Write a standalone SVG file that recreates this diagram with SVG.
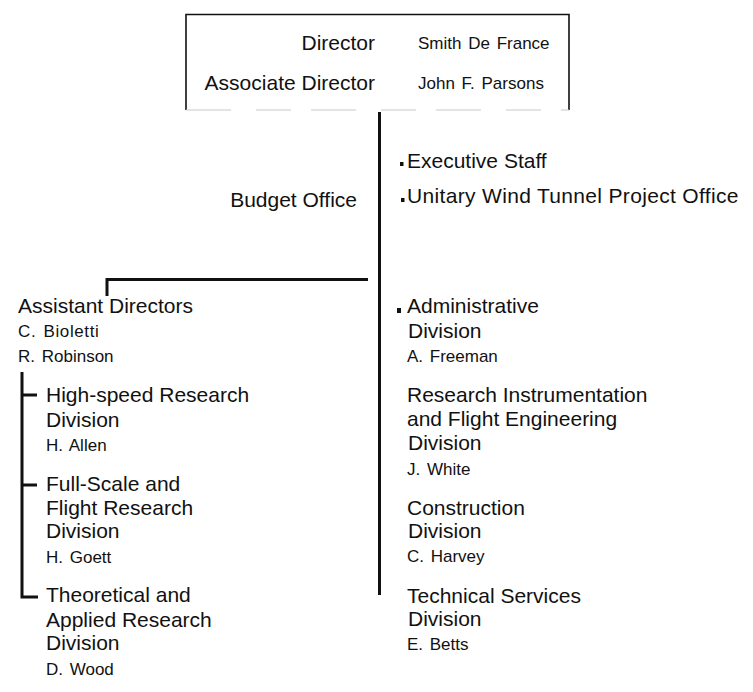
<svg xmlns="http://www.w3.org/2000/svg" width="753" height="692" viewBox="0 0 753 692">
<style>
  text { font-family: "Liberation Sans", Arial, sans-serif; fill: #111; }
  .t { font-size: 21px; }
  .n { font-size: 17px; word-spacing: 2px; }
  .end { text-anchor: end; }
  .line { stroke: #111; fill: none; stroke-width: 3; }
  .bul { fill: #111; }
</style>
<rect width="753" height="692" fill="#fff"/>
<g id="director">
  <path d="M186,110 V14.5 H569 V110" fill="none" stroke="#111" stroke-width="1.6"/>
  <line x1="186" y1="110" x2="569" y2="110" stroke="#c8c8c8" stroke-width="1" stroke-dasharray="45,25,35,20"/>
  <text class="t end" x="375" y="50">Director</text>
  <text class="n" x="418" y="49">Smith De France</text>
  <text class="t end" x="375" y="90">Associate Director</text>
  <text class="n" x="418" y="89">John F. Parsons</text>
</g>
<g id="connectors">
  <line class="line" x1="379.5" y1="112" x2="379.5" y2="595"/>
  <path class="line" d="M368,279.5 H107 V296"/>
  <path class="line" d="M22,372 V597 H38"/>
  <line class="line" x1="22" y1="395" x2="37" y2="395"/>
  <line class="line" x1="22" y1="485" x2="37" y2="485"/>
</g>
<g id="executive-staff">
  <rect class="bul" x="400" y="162" width="3.5" height="4"/>
  <text class="t" x="407" y="168">Executive Staff</text>
</g>
<g id="unitary-office">
  <rect class="bul" x="401" y="198" width="3.5" height="4"/>
  <text class="t" x="407" y="203" letter-spacing="0.33">Unitary Wind Tunnel Project Office</text>
</g>
<g id="budget-office">
  <text class="t end" x="357" y="207">Budget Office</text>
</g>
<g id="assistant-directors">
  <text class="t" x="18" y="313">Assistant Directors</text>
  <text class="n" x="18" y="337" letter-spacing="0.6">C. Bioletti</text>
  <text class="n" x="18" y="362">R. Robinson</text>
</g>
<g id="high-speed">
  <text class="t" x="46" y="402">High-speed Research</text>
  <text class="t" x="46" y="427">Division</text>
  <text class="n" x="46" y="451">H. Allen</text>
</g>
<g id="full-scale">
  <text class="t" x="46" y="491">Full-Scale and</text>
  <text class="t" x="46" y="515">Flight Research</text>
  <text class="t" x="46" y="538">Division</text>
  <text class="n" x="46" y="563">H. Goett</text>
</g>
<g id="theoretical">
  <text class="t" x="46" y="602">Theoretical and</text>
  <text class="t" x="46" y="627">Applied Research</text>
  <text class="t" x="46" y="650">Division</text>
  <text class="n" x="46" y="675">D. Wood</text>
</g>
<g id="administrative">
  <rect class="bul" x="397" y="308" width="4" height="5"/>
  <text class="t" x="407" y="313">Administrative</text>
  <text class="t" x="408" y="338">Division</text>
  <text class="n" x="407" y="362">A. Freeman</text>
</g>
<g id="instrumentation">
  <text class="t" x="407" y="402">Research Instrumentation</text>
  <text class="t" x="407" y="426">and Flight Engineering</text>
  <text class="t" x="408" y="450">Division</text>
  <text class="n" x="407" y="475">J. White</text>
</g>
<g id="construction">
  <text class="t" x="407" y="515">Construction</text>
  <text class="t" x="408" y="538">Division</text>
  <text class="n" x="407" y="562">C. Harvey</text>
</g>
<g id="technical-services">
  <text class="t" x="407" y="603">Technical Services</text>
  <text class="t" x="408" y="626">Division</text>
  <text class="n" x="407" y="650">E. Betts</text>
</g>
</svg>
